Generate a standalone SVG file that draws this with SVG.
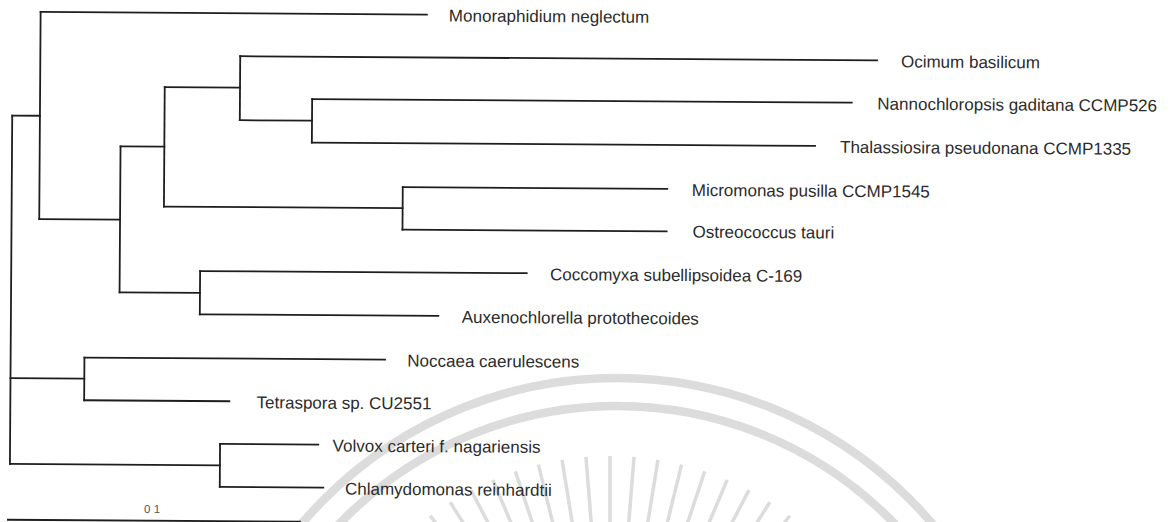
<svg xmlns="http://www.w3.org/2000/svg" width="1174" height="522" viewBox="0 0 1174 522">
<style>
.br{stroke:#1e1e1e;stroke-width:1.8;fill:none;stroke-linecap:square}
.lbl{font-family:"Liberation Sans",Arial,sans-serif;font-size:17px;fill:#2b2b2b}
.sc{font-family:"Liberation Sans",Arial,sans-serif;font-size:11.5px;fill:#555}
.wm{stroke:#dcdcdc;fill:none}
.ray{stroke:#dcdcdc;stroke-width:3.5}
</style>
<rect width="1174" height="522" fill="#ffffff"/>
<g id="watermark">
<circle class="wm" cx="617" cy="792" r="414" stroke-width="8.5"/>
<circle class="wm" cx="617" cy="792" r="386" stroke-width="8.5"/>
<g id="rays">
<line class="ray" x1="610" y1="576" x2="610" y2="456" transform="rotate(-36.8 610 756)"/>
<line class="ray" x1="610" y1="576" x2="610" y2="456" transform="rotate(-32.2 610 756)"/>
<line class="ray" x1="610" y1="576" x2="610" y2="456" transform="rotate(-27.6 610 756)"/>
<line class="ray" x1="610" y1="576" x2="610" y2="456" transform="rotate(-23 610 756)"/>
<line class="ray" x1="610" y1="576" x2="610" y2="456" transform="rotate(-18.4 610 756)"/>
<line class="ray" x1="610" y1="576" x2="610" y2="456" transform="rotate(-13.8 610 756)"/>
<line class="ray" x1="610" y1="576" x2="610" y2="456" transform="rotate(-9.2 610 756)"/>
<line class="ray" x1="610" y1="576" x2="610" y2="456" transform="rotate(-4.6 610 756)"/>
<line class="ray" x1="610" y1="576" x2="610" y2="456"/>
<line class="ray" x1="610" y1="576" x2="610" y2="456" transform="rotate(4.6 610 756)"/>
<line class="ray" x1="610" y1="576" x2="610" y2="456" transform="rotate(9.2 610 756)"/>
<line class="ray" x1="610" y1="576" x2="610" y2="456" transform="rotate(13.8 610 756)"/>
<line class="ray" x1="610" y1="576" x2="610" y2="456" transform="rotate(18.4 610 756)"/>
<line class="ray" x1="610" y1="576" x2="610" y2="456" transform="rotate(23 610 756)"/>
<line class="ray" x1="610" y1="576" x2="610" y2="456" transform="rotate(27.6 610 756)"/>
<line class="ray" x1="610" y1="576" x2="610" y2="456" transform="rotate(32.2 610 756)"/>
<line class="ray" x1="610" y1="576" x2="610" y2="456" transform="rotate(36.8 610 756)"/>
</g>
</g>
<g id="tree" transform="rotate(0.38)">
<g id="connectors">
<path class="br" d="M13 115.5 V463.9"/>
<path class="br" d="M13 115.5 H40.7"/>
<path class="br" d="M40.7 11.7 V218.8"/>
<path class="br" d="M40.7 11.7 H427"/>
<path class="br" d="M40.7 218.8 H121.5"/>
<path class="br" d="M121.5 145.5 V291.6"/>
<path class="br" d="M121.5 145.5 H165.3"/>
<path class="br" d="M165.3 86 V205.5"/>
<path class="br" d="M165.3 86 H240.6"/>
<path class="br" d="M240.6 54.6 V118.6"/>
<path class="br" d="M240.6 54.6 H877.4"/>
<path class="br" d="M240.6 118.6 H312.8"/>
<path class="br" d="M312.8 97 V140.5"/>
<path class="br" d="M312.8 97 H852.4"/>
<path class="br" d="M312.8 140.5 H816"/>
<path class="br" d="M165.3 205.5 H404"/>
<path class="br" d="M404 184.5 V227"/>
<path class="br" d="M404 184.5 H668.5"/>
<path class="br" d="M404 227 H668.2"/>
<path class="br" d="M121.5 291.6 H201.9"/>
<path class="br" d="M201.9 269.7 V313"/>
<path class="br" d="M201.9 269.7 H528.5"/>
<path class="br" d="M201.9 313 H440.4"/>
<path class="br" d="M13 378 H86.8"/>
<path class="br" d="M86.8 357 V399.7"/>
<path class="br" d="M86.8 357 H387.4"/>
<path class="br" d="M86.8 399.7 H232"/>
<path class="br" d="M13 463.9 H223"/>
<path class="br" d="M223 442.5 V485.5"/>
<path class="br" d="M223 442.5 H321.2"/>
<path class="br" d="M223 485.5 H326.5"/>
</g>
<g id="n-monoraphidium"><text class="lbl" x="449" y="18.5">Monoraphidium neglectum</text></g>
<g id="n-ocimum"><text class="lbl" x="901.4" y="61.4">Ocimum basilicum</text></g>
<g id="n-nannochloropsis"><text class="lbl" x="878" y="103.8">Nannochloropsis gaditana CCMP526</text></g>
<g id="n-thalassiosira"><text class="lbl" x="841" y="147.3">Thalassiosira pseudonana CCMP1335</text></g>
<g id="n-micromonas"><text class="lbl" x="693" y="191.3">Micromonas pusilla CCMP1545</text></g>
<g id="n-ostreococcus"><text class="lbl" x="694" y="233">Ostreococcus tauri</text></g>
<g id="n-coccomyxa"><text class="lbl" x="551.8" y="276.5">Coccomyxa subellipsoidea C-169</text></g>
<g id="n-auxenochlorella"><text class="lbl" x="463.8" y="319.8">Auxenochlorella protothecoides</text></g>
<g id="n-noccaea"><text class="lbl" x="409.7" y="363.8">Noccaea caerulescens</text></g>
<g id="n-tetraspora"><text class="lbl" x="259.3" y="406.5">Tetraspora sp. CU2551</text></g>
<g id="n-volvox"><text class="lbl" x="335.6" y="449.3">Volvox carteri f. nagariensis</text></g>
<g id="n-chlamydomonas"><text class="lbl" x="348.2" y="492.3">Chlamydomonas reinhardtii</text></g>
<g id="scale-bar">
<path class="br" d="M11.4 519.7 H303.4"/>
<text class="sc" x="147.5" y="512">0 1</text>
</g>
</g>
</svg>
